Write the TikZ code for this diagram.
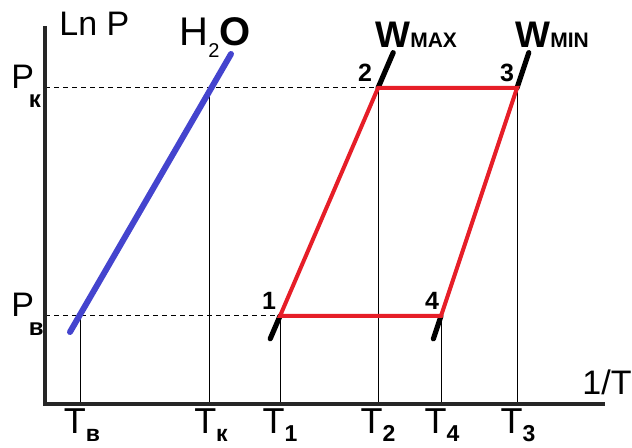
\documentclass[tikz,border=0pt]{standalone}
\usepackage{fontspec}
\setmainfont{Liberation Sans}
\usetikzlibrary{arrows, calc}

\definecolor{vapourblue}{RGB}{68,68,206}
\definecolor{loopred}{RGB}{230,30,40}
\newcommand{\pidx}[1]{\kern-0.15em\raisebox{-0.55em}{\fontsize{12}{12}\selectfont\bfseries #1}}
\newcommand{\tidx}[1]{\raisebox{-0.2em}{\fontsize{11.5}{12}\selectfont\bfseries #1}}

\begin{document}
\begin{tikzpicture}[x=0.5pt, y=-0.5pt,
    lbl/.style={font=\fontsize{17}{17}\selectfont, inner sep=0pt},
    tlbl/.style={font=\fontsize{18}{18}\selectfont, inner sep=0pt},
    num/.style={font=\fontsize{12.5}{13}\selectfont\bfseries, inner sep=0pt},
    axisline/.style={line width=1.75pt, black!85},
    guide/.style={line width=0.5pt, black},
    level/.style={line width=0.5pt, black, dash pattern=on 2.5pt off 2pt},
    vapour/.style={line width=3pt, vapourblue, line cap=round},
    isostere/.style={line width=2.6pt, black, line cap=round},
    loop/.style={line width=2pt, loopred, line join=miter}]
    \useasboundingbox (0, 0) rectangle (632, 448);

    \coordinate (O) at (45, 404);
    \coordinate (ytop) at (45, 26);
    \coordinate (xend) at (605, 404);
    \coordinate (pk) at (45, 88);
    \coordinate (pb) at (45, 316);

    \coordinate (h0) at (70, 332);
    \coordinate (h9) at (231, 54);
    \coordinate (hb) at (80, 316);
    \coordinate (hk) at (209, 88);

    \coordinate (p1) at (280, 316);
    \coordinate (p2) at (378, 88);
    \coordinate (p3) at (517, 88);
    \coordinate (p4) at (441, 316);

    \coordinate (wa0) at ($(p1)!-0.1!(p2)$);
    \coordinate (wa9) at ($(p2)!-0.155!(p1)$);
    \coordinate (wb0) at ($(p4)!-0.1!(p3)$);
    \coordinate (wb9) at ($(p3)!-0.155!(p4)$);

    \node[lbl, anchor=base west] (lnp) at (59, 36) {Ln P};
    \node[lbl, anchor=base west] (invt) at (582, 395) {1/T};
    \node[lbl, anchor=base west] (Pk) at (11, 89) {P\pidx{к}};
    \node[lbl, anchor=base west] (Pb) at (11, 317) {P\pidx{в}};
    \node[anchor=base west, inner sep=0pt, font=\fontsize{20}{20}\selectfont] (water) at (179, 46)
        {H\raisebox{-0.3em}{\fontsize{10}{10}\selectfont 2}\textbf{O}};
    \node[anchor=base west, inner sep=0pt, font=\fontsize{18.5}{19}\selectfont\bfseries] (wmax) at (375, 48)
        {W{\fontsize{10.5}{11}\selectfont MAX}};
    \node[anchor=base west, inner sep=0pt, font=\fontsize{18.5}{19}\selectfont\bfseries] (wmin) at (515, 48)
        {W{\fontsize{10.5}{11}\selectfont MIN}};

    \node[num, anchor=base] (n1) at (269, 310) {1};
    \node[num, anchor=base] (n2) at (365, 82) {2};
    \node[num, anchor=base] (n3) at (507, 82) {3};
    \node[num, anchor=base] (n4) at (432, 310) {4};

    \node[tlbl, anchor=base] (Tb) at (82, 434) {T\tidx{в}};
    \node[tlbl, anchor=base] (Tk) at (211, 434) {T\tidx{к}};
    \node[tlbl, anchor=base] (T1) at (280, 434) {T\tidx{1}};
    \node[tlbl, anchor=base] (T2) at (378, 434) {T\tidx{2}};
    \node[tlbl, anchor=base] (T4) at (442, 434) {T\tidx{4}};
    \node[tlbl, anchor=base] (T3) at (518, 434) {T\tidx{3}};

    \draw[level] (pk) -- (p2);
    \draw[level] (pb) -- (p1);

    \draw[guide] (hb) -- (hb |- O);
    \draw[guide] (hk) -- (hk |- O);
    \draw[guide] (p1) -- (p1 |- O);
    \draw[guide] (p2) -- (p2 |- O);
    \draw[guide] (p4) -- (p4 |- O);
    \draw[guide] (p3) -- (p3 |- O);

    \draw[axisline] (ytop) -- (O) -- (xend);

    \draw[vapour] (h0) -- (h9);
    \draw[isostere] (wa0) -- (p1);
    \draw[isostere] (p2) -- (wa9);
    \draw[isostere] (wb0) -- (p4);
    \draw[isostere] (p3) -- (wb9);
    \draw[loop] (p1) -- (p2) -- (p3) -- (p4) -- cycle;
\end{tikzpicture}
\end{document}
